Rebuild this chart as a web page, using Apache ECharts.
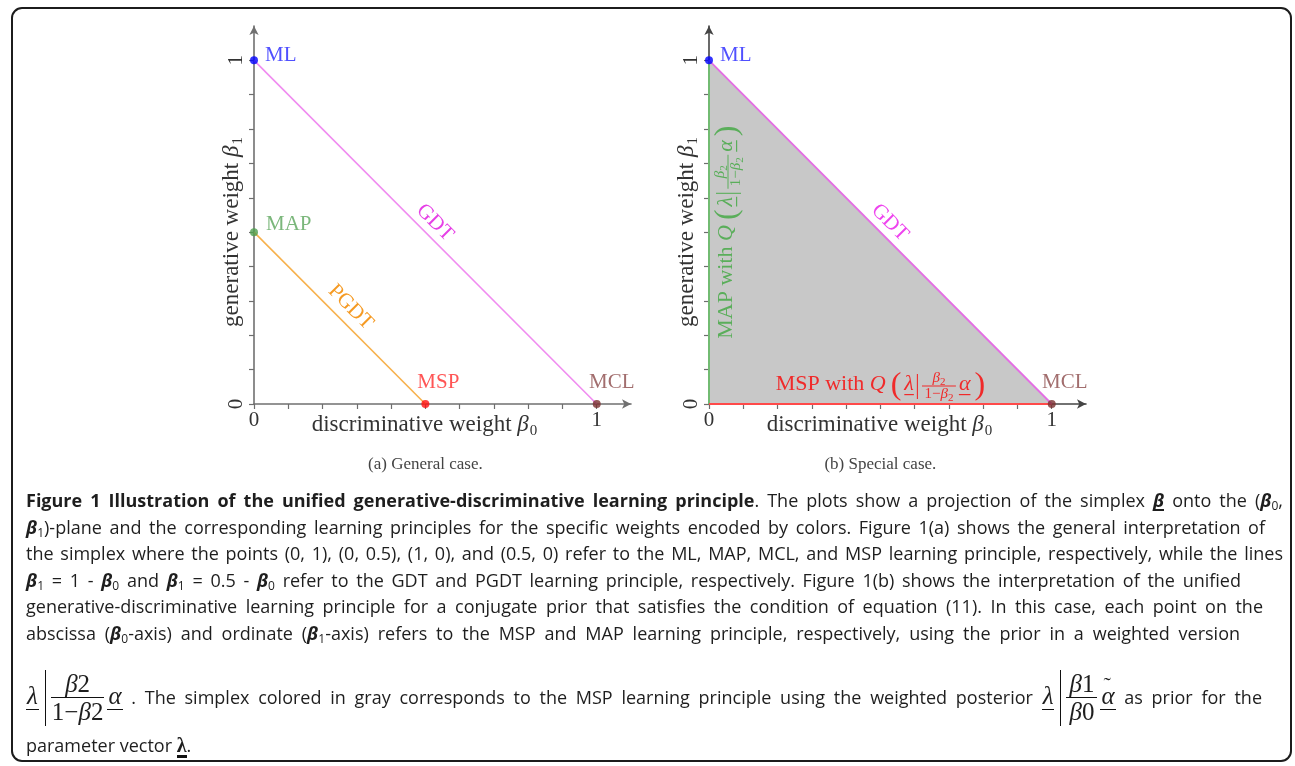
<!DOCTYPE html>
<html>
<head>
<meta charset="utf-8">
<title>Figure 1</title>
<script src="https://cdn.jsdelivr.net/npm/echarts@6.0.0/dist/echarts.min.js"></script>
<style>
  html, body { margin:0; padding:0; background:#fff; }
  #wrap { position:relative; width:1295px; height:766px; overflow:hidden; background:#fff; }
  #chart { position:absolute; left:0; top:0; width:1295px; height:766px; }
  #frame { position:absolute; left:11px; top:7px; width:1281px; height:755px; box-sizing:border-box; border:2px solid #1c1c1c; border-radius:11px; pointer-events:none; }
  #caption { position:absolute; left:0; top:0; width:1295px; height:766px; pointer-events:none; font-family:'Open Sans','Noto Sans',sans-serif; font-size:18px; color:#1e1e1e; }
  .ln { position:absolute; left:26px; white-space:nowrap; height:26px; line-height:26px; }
  .ln b { font-weight:700; }
  .bb { font-weight:700; font-style:italic; }
  .bu { font-weight:700; font-style:italic; border-bottom:2px solid #1e1e1e; line-height:1; display:inline-block; }
  sub { font-size:12px; vertical-align:-3px; line-height:0; }
  .m { font-family:'Liberation Serif',serif; font-size:25px; white-space:nowrap; }
  .m i { font-style:italic; }
  .ul { display:inline-block; line-height:1; border-bottom:1.4px solid #111; font-style:italic; padding:0 1px 1px; }
  .tl { position:relative; }
  .tilde { position:absolute; left:3px; top:-9px; font-style:normal; font-size:22px; }
  .vb { display:inline-block; width:0; height:56px; border-left:1.3px solid #111; vertical-align:middle; margin:0 5px 0 6px; }
  .frac { display:inline-block; vertical-align:middle; text-align:center; margin-right:3px; }
  .num { display:block; line-height:27px; border-bottom:1.2px solid #111; padding:0 3px; }
  .den { display:block; line-height:28px; padding:0 1px; }
  .lam { font-family:'Liberation Serif',serif; font-weight:bold; font-size:20px; display:inline-block; line-height:1; border-bottom:3px solid #111; }
  .ln.tall { height:60px; line-height:60px; }
</style>
</head>
<body>
<div id="wrap">
  <div id="chart"></div>
  <div id="caption"></div>
  <div id="frame"></div>
</div>
<script>
// ---------------- data ----------------
const axisTicks = [0, 0.1, 0.2, 0.3, 0.4, 0.5, 0.6, 0.7, 0.8, 0.9, 1];
const axisLabelValues = [0, 1];
const axisMin = 0;
const axisMax = 1.1;
const tickStep = 0.1;

const mlPoint = [0, 1];
const mapPoint = [0, 0.5];
const mspPoint = [0.5, 0];
const mclPoint = [1, 0];
const gdtEnds = [[0, 1], [1, 0]];
const pgdtEnds = [[0, 0.5], [0.5, 0]];
const simplexEdge = [[0, 1], [1, 0]];
const ordinateSegment = [[0, 0], [0, 1]];
const abscissaSegment = [[0, 0], [1, 0]];
const mspLabelAt = [0.5, 0];
const mapLabelAt = [0, 0.5];

const panelCaptions = ['(a) General case.', '(b) Special case.'];
const xAxisName = '{t|discriminative weight }{g|β}{s|0}';
const yAxisName = '{t|generative weight }{g|β}{s|1}';

const captionLines = [
  '<b>Figure 1 Illustration of the unified generative-discriminative learning principle</b>. The plots show a projection of the simplex <span class="bu">β</span> onto the (<span class="bb">β</span><sub>0</sub>,',
  '<span class="bb">β</span><sub>1</sub>)-plane and the corresponding learning principles for the specific weights encoded by colors. Figure 1(a) shows the general interpretation of',
  'the simplex where the points (0, 1), (0, 0.5), (1, 0), and (0.5, 0) refer to the ML, MAP, MCL, and MSP learning principle, respectively, while the lines',
  '<span class="bb">β</span><sub>1</sub> = 1 - <span class="bb">β</span><sub>0</sub> and <span class="bb">β</span><sub>1</sub> = 0.5 - <span class="bb">β</span><sub>0</sub> refer to the GDT and PGDT learning principle, respectively. Figure 1(b) shows the interpretation of the unified',
  'generative-discriminative learning principle for a conjugate prior that satisfies the condition of equation (11). In this case, each point on the',
  'abscissa (<span class="bb">β</span><sub>0</sub>-axis) and ordinate (<span class="bb">β</span><sub>1</sub>-axis) refers to the MSP and MAP learning principle, respectively, using the prior in a weighted version',
  '<span class="m"><span class="ul">λ</span><span class="vb"></span><span class="frac"><span class="num"><i>β</i>2</span><span class="den">1−<i>β</i>2</span></span><span class="ul">α</span></span> . The simplex colored in gray corresponds to the MSP learning principle using the weighted posterior <span class="m"><span class="ul">λ</span><span class="vb"></span><span class="frac"><span class="num"><i>β</i>1</span><span class="den"><i>β</i>0</span></span><span class="ul tl">α<span class="tilde">˜</span></span></span> as prior for the',
  'parameter vector <span class="lam">λ</span>.'
];
const lineCenters = [500, 526.5, 553, 579.5, 606, 632.5, 696, 745];
const lineRights = [1283, 1265, 1283, 1241, 1263, 1240, 1262, null];
const textLeft = 26;

// ---------------- caption (HTML text) ----------------
const cap = document.getElementById('caption');
captionLines.forEach((html, i) => {
  const d = document.createElement('div');
  const tall = i === 6;
  d.className = 'ln' + (tall ? ' tall' : '');
  d.innerHTML = html;
  const h = tall ? 60 : 26;
  d.style.top = (lineCenters[i] - h / 2) + 'px';
  cap.appendChild(d);
  const target = lineRights[i];
  if (target) {
    const natural = d.getBoundingClientRect().width;
    const spaces = (d.textContent.match(/ /g) || []).length;
    if (spaces > 0) d.style.wordSpacing = ((target - textLeft - natural) / spaces) + 'px';
  }
});

// ---------------- chart ----------------
const SERIF = 'Liberation Serif';
const chart = echarts.init(document.getElementById('chart'), null, { renderer: 'canvas' });

const nameRich = {
  t: { fontFamily: SERIF, fontSize: 23, color: '#333', verticalAlign: 'middle' },
  g: { fontFamily: SERIF, fontSize: 23, fontStyle: 'italic', color: '#333', verticalAlign: 'middle' },
  s: { fontFamily: SERIF, fontSize: 15, color: '#333', verticalAlign: 'middle', padding: [13, 0, 0, 1] }
};

function near(a, b) { return Math.abs(a - b) < 1e-6; }
function tickLabel(v) {
  for (const l of axisLabelValues) if (near(v, l)) return String(l);
  return '';
}

function axisLineCfg(color) {
  return { show: true, onZero: false, symbol: ['none', 'arrow'], symbolSize: [7, 9], lineStyle: { color: color, width: 1.6 } };
}

function xAxisCfg(gi, color) {
  return {
    type: 'value', gridIndex: gi, min: axisMin, max: axisMax, interval: tickStep,
    axisLine: axisLineCfg(color),
    axisTick: { show: true, customValues: axisTicks, length: 5, lineStyle: { color: '#6e6e6e', width: 1.2 } },
    axisLabel: { show: true, customValues: axisLabelValues, formatter: tickLabel, fontFamily: SERIF, fontSize: 21, color: '#333', margin: 6 },
    splitLine: { show: false },
    name: xAxisName, nameLocation: 'middle', nameGap: 7, nameMoveOverlap: false,
    nameTextStyle: { rich: nameRich, padding: [0, 36, 0, 0] }
  };
}
function yAxisCfg(gi, color) {
  return {
    type: 'value', gridIndex: gi, min: axisMin, max: axisMax, interval: tickStep,
    axisLine: axisLineCfg(color),
    axisTick: { show: true, customValues: axisTicks, length: 5, lineStyle: { color: '#6e6e6e', width: 1.2 } },
    axisLabel: { show: true, customValues: axisLabelValues, formatter: tickLabel, rotate: 90, fontFamily: SERIF, fontSize: 21, color: '#333', margin: 7 },
    splitLine: { show: false },
    name: yAxisName, nameLocation: 'middle', nameRotate: 90, nameGap: 8, nameMoveOverlap: false,
    nameTextStyle: { rich: nameRich, padding: [0, 34, 0, 0] }
  };
}

function pointSeries(gi, pt, color, labelColor, text, pos, dist, offset) {
  return {
    type: 'scatter', xAxisIndex: gi, yAxisIndex: gi, data: [pt], symbol: 'circle', symbolSize: 8, z: 6, silent: true,
    itemStyle: { color: color },
    label: { show: true, formatter: text, position: pos, distance: dist, offset: offset, color: labelColor, fontFamily: SERIF, fontSize: 21 }
  };
}

function segmentSeries(gi, data, color, width, z, labelText, labelColor, labelDist) {
  const s = {
    type: 'line', xAxisIndex: gi, yAxisIndex: gi, data: data, symbol: 'none', z: z, silent: true,
    lineStyle: { color: color, width: width }
  };
  if (labelText) {
    s.markLine = {
      silent: true, animation: false, symbol: ['none', 'none'],
      lineStyle: { color: 'rgba(0,0,0,0)', width: 1, type: 'solid' },
      label: { show: true, opacity: 1, position: 'insideMiddleTop', distance: labelDist, formatter: labelText, color: labelColor, fontFamily: SERIF, fontSize: 21 },
      emphasis: { disabled: true },
      data: [[{ coord: data[0] }, { coord: data[1] }]]
    };
  }
  return s;
}

const option = {
  animation: false,
  backgroundColor: '#fff',
  grid: [
    { left: 254, top: 26, width: 377, height: 378, containLabel: false, outerBoundsMode: 'none' },
    { left: 709, top: 26, width: 377, height: 378, containLabel: false, outerBoundsMode: 'none' }
  ],
  xAxis: [xAxisCfg(0, '#707070'), xAxisCfg(1, '#444')],
  yAxis: [yAxisCfg(0, '#707070'), yAxisCfg(1, '#444')],
  series: [
    // panel (a)
    segmentSeries(0, gdtEnds, '#f08cf0', 1.6, 3, 'GDT', '#e640e6', 3),
    segmentSeries(0, pgdtEnds, '#f7b14d', 1.6, 3, 'PGDT', '#f59a23', 5),
    pointSeries(0, mlPoint, '#0000ff', '#2424ff', 'ML', 'right', 7, [0, -5]),
    pointSeries(0, mapPoint, '#4f9f4f', '#5aa55a', 'MAP', 'right', 8, [0, -8]),
    pointSeries(0, mspPoint, '#ff1010', '#ff2a2a', 'MSP', 'top', 7, [13, 0]),
    pointSeries(0, mclPoint, '#7a2f2f', '#8b4a4a', 'MCL', 'top', 7, [15, 0]),
    // panel (b)
    {
      type: 'line', xAxisIndex: 1, yAxisIndex: 1, data: simplexEdge, symbol: 'none', z: 1, silent: true,
      lineStyle: { width: 0 }, areaStyle: { color: '#c8c8c8', opacity: 1 }
    },
    segmentSeries(1, ordinateSegment, '#72bb72', 2, 3),
    segmentSeries(1, abscissaSegment, '#ff4a4a', 2, 3),
    segmentSeries(1, simplexEdge, '#e46ee4', 1.8, 4, 'GDT', '#ee44ee', 3),
    pointSeries(1, mlPoint, '#0000ff', '#2424ff', 'ML', 'right', 7, [0, -5]),
    pointSeries(1, mclPoint, '#7a2f2f', '#8b4a4a', 'MCL', 'top', 7, [13, 0])
  ]
};
chart.setOption(option);

// ---------- formula labels for panel (b) ----------
const measureCtx = document.createElement('canvas').getContext('2d');
function tw(str, size, italic) {
  measureCtx.font = (italic ? 'italic ' : '') + size + 'px "' + SERIF + '"';
  return measureCtx.measureText(str).width;
}
function formulaGroup(prefix, color, cx, cy, rotation) {
  const B = 22, S = 15, SS = 11, P = 32;
  const kids = [];
  let x = 0;
  function t(str, size, italic, ax, y) {
    kids.push({ type: 'text', x: ax, y: y, silent: true, z: 100,
      style: { text: str, fontSize: size, fontFamily: SERIF, fontStyle: italic ? 'italic' : 'normal', fill: color, align: 'left', verticalAlign: 'middle' } });
  }
  function r(ax, ay, w, h) {
    kids.push({ type: 'rect', silent: true, z: 100, shape: { x: ax, y: ay, width: w, height: h }, style: { fill: color } });
  }
  t(prefix, B, false, x, -2); x += tw(prefix, B, false);
  t('Q', B, true, x, -2); x += tw('Q', B, true) + 5;
  t('(', P, false, x, 0); x += tw('(', P, false) + 3;
  const lw = tw('λ', B, true);
  t('λ', B, true, x, -2); r(x, 8, lw, 1.2); x += lw + 3;
  r(x, -12, 1.1, 25); x += 1.1 + 4;
  const numW = tw('β', S, true) + tw('2', SS, false);
  const denW = tw('1−', S, false) + tw('β', S, true) + tw('2', SS, false);
  const fw = Math.max(numW, denW) + 5;
  let nx = x + (fw - numW) / 2;
  t('β', S, true, nx, -7.5); nx += tw('β', S, true);
  t('2', SS, false, nx, -4);
  r(x, -0.5, fw, 1);
  let dx = x + (fw - denW) / 2;
  t('1−', S, false, dx, 8.5); dx += tw('1−', S, false);
  t('β', S, true, dx, 8.5); dx += tw('β', S, true);
  t('2', SS, false, dx, 12);
  x += fw + 3;
  const aw = tw('α', B, true);
  t('α', B, true, x, -2); r(x, 8, aw, 1.2); x += aw + 4;
  t(')', P, false, x, 0); x += tw(')', P, false);
  return { type: 'group', x: cx, y: cy, rotation: rotation, silent: true, z: 100,
    children: [{ type: 'group', x: -x / 2, z: 100, children: kids }] };
}

const mspPx = chart.convertToPixel({ gridIndex: 1 }, mspLabelAt);
const mapPx = chart.convertToPixel({ gridIndex: 1 }, mapLabelAt);
const midA = chart.convertToPixel({ gridIndex: 0 }, [0.5, 0]);
const midB = chart.convertToPixel({ gridIndex: 1 }, [0.5, 0]);

chart.setOption({
  graphic: [
    formulaGroup('MSP with ', '#f02a2a', mspPx[0], mspPx[1] - 18, 0),
    formulaGroup('MAP with ', '#5aae5a', mapPx[0] + 19, mapPx[1], Math.PI / 2),
    { type: 'text', x: midA[0], y: 465, silent: true, z: 100,
      style: { text: panelCaptions[0], fontFamily: SERIF, fontSize: 17, fill: '#444', align: 'center', verticalAlign: 'middle' } },
    { type: 'text', x: midB[0], y: 465, silent: true, z: 100,
      style: { text: panelCaptions[1], fontFamily: SERIF, fontSize: 17, fill: '#444', align: 'center', verticalAlign: 'middle' } }
  ]
});
</script>
</body>
</html>
